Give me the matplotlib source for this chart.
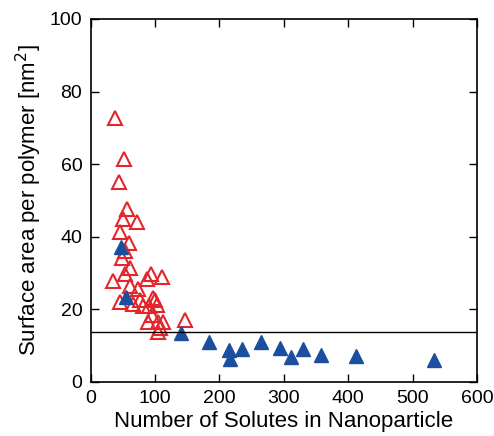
import matplotlib
matplotlib.use('Agg')
import matplotlib.pyplot as plt

plt.rcParams['font.family'] = ['Liberation Sans', 'DejaVu Sans']

# open red triangles
red_x = [37.8, 52.3, 43.5, 55.9, 50.7, 71.4, 45.5, 60.0, 53.3, 48.1, 61.1, 53.3,
         35.2, 61.1, 73.0, 93.2, 87.0, 111.3, 45.5, 66.3, 76.6, 96.3, 81.8, 91.1,
         102.5, 94.7, 89.5, 105.1, 112.8, 107.7, 105.1, 146.5, 99.9]
red_y = [72.8, 61.3, 55.0, 47.5, 44.8, 43.9, 41.4, 38.3, 36.1, 34.0, 31.4, 29.7,
         27.8, 26.5, 25.5, 29.7, 28.4, 29.0, 22.1, 21.4, 22.5, 23.2, 20.9, 20.9,
         21.1, 18.4, 16.4, 16.4, 16.6, 14.7, 13.6, 17.0, 22.5]

# filled blue triangles
blue_x = [46.6, 54.3, 140.3, 183.2, 215.3, 216.4, 234.5, 264.5, 294.0, 310.6,
          330.2, 357.1, 412.0, 533.1]
blue_y = [37.1, 23.4, 13.3, 10.9, 8.7, 6.4, 8.9, 11.0, 9.2, 6.7, 8.9, 7.4, 7.1, 6.0]

line_y = 13.6

fig = plt.figure(figsize=(4.94, 4.36), dpi=100)
ax = fig.add_axes([0.1836, 0.1245, 0.782, 0.832])

ax.plot(red_x, red_y, '^', markersize=10, markerfacecolor='none',
        markeredgecolor='#e5252c', markeredgewidth=1.5, linestyle='none')
ax.plot(blue_x, blue_y, '^', markersize=10.5, markerfacecolor='#1b4f9e',
        markeredgecolor='#1b4f9e', linestyle='none')
ax.axhline(line_y, color='black', linewidth=1.0)

ax.set_xlim(0, 600)
ax.set_ylim(0, 100)
ax.set_xticks(range(0, 601, 100))
ax.set_yticks(range(0, 101, 20))
ax.tick_params(direction='in', top=True, right=True, length=6, width=1,
               labelsize=14, pad=6)
for s in ax.spines.values():
    s.set_linewidth(1.2)

ax.set_xlabel('Number of Solutes in Nanoparticle', fontsize=16, labelpad=3)
ax.set_ylabel('Surface area per polymer [nm$^2$]', fontsize=16, labelpad=4)

fig.savefig('out.png', dpi=100)
